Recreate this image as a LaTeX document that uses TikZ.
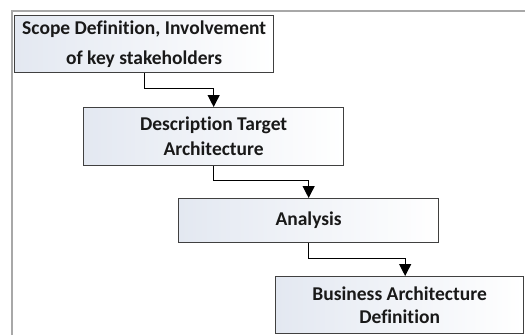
\documentclass[tikz,border=0pt]{standalone}
\usepackage{fontspec}
\setmainfont{Carlito}[Ligatures=NoCommon]
\usetikzlibrary{arrows.meta}
\definecolor{boxline}{HTML}{404040}
\definecolor{boxleft}{HTML}{E3E8F1}
\definecolor{framegray}{HTML}{A8A8A8}
\tikzset{
  stepbox/.style={draw=boxline, line width=1.3pt, left color=boxleft, right color=white,
    align=center, inner sep=0pt, anchor=north west,
    font=\fontsize{19.5}{25}\selectfont\bfseries, text=black!90},
  conn/.style={draw=black, line width=1.2pt, -{Triangle[length=12pt,width=12pt]}}
}
\begin{document}
\begin{tikzpicture}[x=1pt,y=1pt]
\useasboundingbox (0,0) rectangle (525,-335);
\fill[white] (0,0) rectangle (525,-335);
\draw[framegray, line width=2pt] (11.5,-335) -- (11.5,-10.5) -- (525,-10.5);
\node[stepbox, minimum width=259pt, minimum height=57pt,
      font=\fontsize{19.5}{30}\selectfont\bfseries] (b1) at (14,-15)
  {\raisebox{-2pt}{Scope Definition, Involvement}\\\raisebox{-2pt}{of key stakeholders}};
\node[stepbox, minimum width=260pt, minimum height=58pt] (b2) at (83,-107)
  {Description Target\\Architecture};
\node[stepbox, minimum width=260pt, minimum height=44pt] (b3) at (178,-198)
  {Analysis};
\node[stepbox, minimum width=248pt, minimum height=57pt,
      font=\fontsize{19.5}{23}\selectfont\bfseries] (b4) at (275,-276)
  {Business Architecture\\Definition};
\draw[conn] (b1.south) -- ++(0,-15) -| (b2.north);
\draw[conn] (b2.south) -- ++(0,-14) -| (b3.north);
\draw[conn] (b3.south) -- ++(0,-15) -| ([xshift=5.5pt]b4.north);
\end{tikzpicture}
\end{document}
